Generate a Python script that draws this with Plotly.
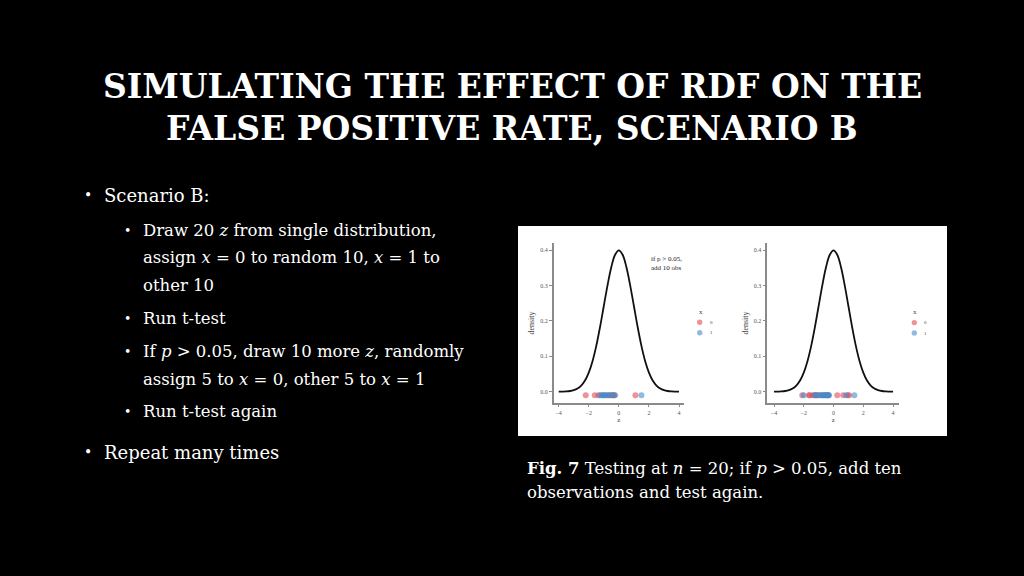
import plotly.graph_objects as go

# ---- data ----
z_grid = [-4.0, -3.75, -3.5, -3.25, -3.0, -2.75, -2.5, -2.25, -2.0, -1.75, -1.5, -1.25, -1.0,
          -0.75, -0.5, -0.25, 0.0, 0.25, 0.5, 0.75, 1.0, 1.25, 1.5, 1.75, 2.0, 2.25, 2.5,
          2.75, 3.0, 3.25, 3.5, 3.75, 4.0]
density = [0.0001, 0.0004, 0.0009, 0.002, 0.0044, 0.0091, 0.0175, 0.0317, 0.054, 0.0863,
           0.1295, 0.1826, 0.242, 0.3011, 0.3521, 0.3867, 0.3989, 0.3867, 0.3521, 0.3011,
           0.242, 0.1826, 0.1295, 0.0863, 0.054, 0.0317, 0.0175, 0.0091, 0.0044, 0.002,
           0.0009, 0.0004, 0.0001]

left_x0 = [-2.2, -1.6, -1.35, -1.05, -0.75, -0.6, -0.45, -0.35, -0.3, 1.1]
left_x1 = [-1.25, -1.15, -1.0, -0.95, -0.85, -0.7, -0.55, -0.4, -0.25, 1.5]
right_x0 = [-2.1, -1.65, -1.6, -1.4, -1.25, -1.2, -1.1, -0.9, -0.7, -0.5, -0.35, 0.25, 0.65, 0.95, 1.05]
right_x1 = [-2.0, -1.3, -1.15, -1.0, -0.85, -0.75, -0.65, -0.6, -0.5, -0.45, -0.4, -0.35, -0.3, 0.85, 1.4]
point_y = -0.01

y_ticks = [0.0, 0.1, 0.2, 0.3, 0.4]
x_ticks = [-4, -2, 0, 2, 4]
legend_labels = ["0", "1"]

title_lines = ["SIMULATING THE EFFECT OF RDF ON THE", "FALSE POSITIVE RATE, SCENARIO B"]

W, H = 1024, 576
def fx(px): return px / W
def fy(py): return 1 - py / H

RED = "rgba(226,72,86,0.6)"
BLUE = "rgba(70,140,200,0.6)"
SERIF = "Liberation Serif"
BODY = "DejaVu Serif"

fig = go.Figure()

for xa, ya, x0s, x1s in [("x", "y", left_x0, left_x1), ("x2", "y2", right_x0, right_x1)]:
    fig.add_trace(go.Scatter(x=z_grid, y=density, mode="lines", line=dict(color="#111", width=1.8, shape="spline"),
                             xaxis=xa, yaxis=ya, showlegend=False, hoverinfo="skip"))
    fig.add_trace(go.Scatter(x=x0s, y=[point_y] * len(x0s), mode="markers", name=legend_labels[0],
                             marker=dict(color=RED, size=6), xaxis=xa, yaxis=ya, showlegend=False))
    fig.add_trace(go.Scatter(x=x1s, y=[point_y] * len(x1s), mode="markers", name=legend_labels[1],
                             marker=dict(color=BLUE, size=6), xaxis=xa, yaxis=ya, showlegend=False))

axis_common = dict(showline=True, linecolor="#8a8a8a", linewidth=1.5, ticks="outside", ticklen=3,
                   tickcolor="#8a8a8a", tickfont=dict(family=SERIF, size=6, color="#555"),
                   showgrid=False, zeroline=False)

fig.update_layout(
    width=W, height=H, margin=dict(l=0, r=0, t=0, b=0),
    paper_bgcolor="black", plot_bgcolor="white",
    xaxis=dict(domain=[fx(553.7), fx(684)], range=[-4.33, 4.33], tickvals=x_ticks, anchor="y",
               title=dict(text="z", font=dict(family=SERIF, size=7, color="#444"), standoff=2), **axis_common),
    yaxis=dict(domain=[fy(402.7), fy(243.3)], range=[-0.031, 0.419], tickvals=y_ticks, tickformat=".1f", anchor="x",
               title=dict(text="density", font=dict(family=SERIF, size=8, color="#444"), standoff=4), **axis_common),
    xaxis2=dict(domain=[fx(767.3), fx(899.3)], range=[-4.45, 4.42], tickvals=x_ticks, anchor="y2",
                title=dict(text="z", font=dict(family=SERIF, size=7, color="#444"), standoff=2), **axis_common),
    yaxis2=dict(domain=[fy(402.7), fy(243.3)], range=[-0.031, 0.419], tickvals=y_ticks, tickformat=".1f", anchor="x2",
                title=dict(text="density", font=dict(family=SERIF, size=8, color="#444"), standoff=4), **axis_common),
    showlegend=False,
)

shapes = [dict(type="rect", xref="paper", yref="paper", x0=fx(518), x1=fx(947), y0=fy(436), y1=fy(226),
               fillcolor="white", line=dict(width=0), layer="below")]

ann = []
# manual legends
for lx, ly in [(699.7, 311.7), (914.3, 312)]:
    ann.append(dict(text="x", x=fx(lx - 3), y=fy(ly), xanchor="left", yanchor="middle",
                    font=dict(family=SERIF, size=7, color="#444")))
    for k, (col, lab) in enumerate(zip([RED, BLUE], legend_labels)):
        cy = ly + 10.6 + 10.4 * k
        shapes.append(dict(type="circle", xref="paper", yref="paper", x0=fx(lx - 2.7), x1=fx(lx + 2.7),
                           y0=fy(cy + 2.7), y1=fy(cy - 2.7), fillcolor=col, line=dict(width=0)))
        ann.append(dict(text=lab, x=fx(lx + 8), y=fy(cy), xanchor="left", yanchor="middle",
                        font=dict(family=SERIF, size=5, color="#444")))

# title
for text, py in zip(title_lines, [87, 128]):
    ann.append(dict(text="<b>" + text + "</b>", x=0.5, y=fy(py), xanchor="center", yanchor="middle",
                    font=dict(family="DejaVu Serif", size=33, color="white")))

bullets = [
    (88, 102, 195, "Scenario B:", 18),
    (127, 141, 230, "Draw 20 <i>z</i> from single distribution,", 16.5),
    (None, 141, 257, "assign <i>x</i> = 0 to random 10, <i>x</i> = 1 to", 16.5),
    (None, 141, 285, "other 10", 16.5),
    (127, 141, 318, "Run t-test", 16.5),
    (127, 141, 351, "If <i>p</i> &gt; 0.05, draw 10 more <i>z</i>, randomly", 16.5),
    (None, 141, 379, "assign 5 to <i>x</i> = 0, other 5 to <i>x</i> = 1", 16.5),
    (127, 141, 411, "Run t-test again", 16.5),
    (88, 102, 452, "Repeat many times", 18),
]
for bx, tx, py, text, size in bullets:
    if bx is not None:
        ann.append(dict(text="•", x=fx(bx), y=fy(py), xanchor="center", yanchor="middle",
                        font=dict(family=BODY, size=size - 4, color="white")))
    ann.append(dict(text=text, x=fx(tx), y=fy(py), xanchor="left", yanchor="middle",
                    font=dict(family=BODY, size=size, color="white")))

ann.append(dict(text="<b>Fig. 7</b> Testing at <i>n</i> = 20; if <i>p</i> &gt; 0.05, add ten", x=fx(525), y=fy(468),
                xanchor="left", yanchor="middle", font=dict(family=BODY, size=16.5, color="white")))
ann.append(dict(text="observations and test again.", x=fx(525), y=fy(492),
                xanchor="left", yanchor="middle", font=dict(family=BODY, size=16.5, color="white")))

# in-plot note
ann.append(dict(text="if p &gt; 0.05,<br>add 10 obs", x=fx(649), y=fy(263), xanchor="left", yanchor="middle",
                align="left", font=dict(family=SERIF, size=7, color="#222")))

for a in ann:
    a.setdefault("xref", "paper")
    a.setdefault("yref", "paper")
    a.setdefault("showarrow", False)
fig.update_layout(annotations=ann, shapes=shapes)

fig.write_html("out.html", config={"displayModeBar": False},
               post_script="document.body.style.margin='0px';document.body.style.overflow='hidden';")
